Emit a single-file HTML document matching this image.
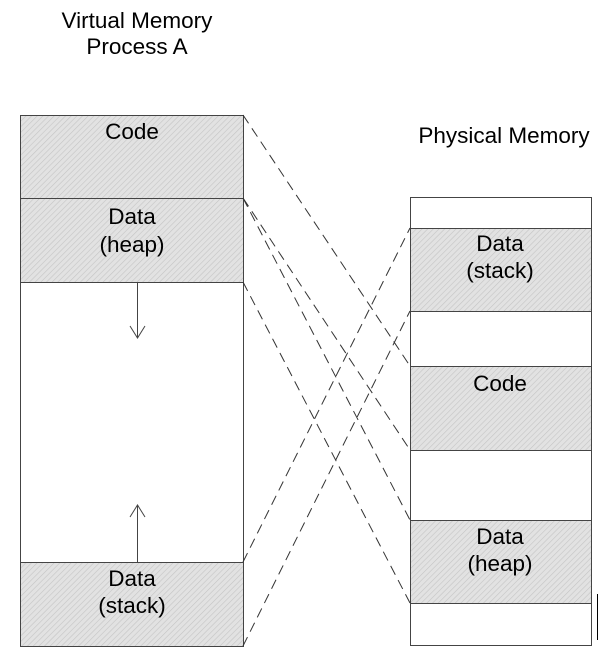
<!DOCTYPE html>
<html><head><style>body{margin:0;background:#fff}</style></head><body>
<svg width="611" height="657" xmlns="http://www.w3.org/2000/svg" font-family="Liberation Sans, sans-serif">
<defs>
<pattern id="h" width="4" height="4" patternUnits="userSpaceOnUse" patternTransform="rotate(45)">
<rect width="4" height="4" fill="#e2e2e2"/><line x1="0" y1="0" x2="0" y2="4" stroke="#c4c4c4" stroke-width="1.2"/>
</pattern>
</defs>
<g font-size="22.5" text-anchor="middle" fill="#000">
<text x="137" y="28">Virtual Memory</text>
<text x="137" y="54">Process A</text>
<text x="504" y="143">Physical Memory</text>
</g>
<g stroke="#444" stroke-width="1">
<rect x="20.5" y="115.5" width="223" height="531" fill="#fff"/>
<rect x="20.5" y="115.5" width="223" height="83" fill="url(#h)"/>
<rect x="20.5" y="198.5" width="223" height="84" fill="url(#h)"/>
<rect x="20.5" y="562.5" width="223" height="84" fill="url(#h)"/>
<line x1="137.5" y1="282" x2="137.5" y2="338"/>
<polyline points="130,326 137.5,338 145,326" fill="none"/>
<line x1="137.5" y1="562" x2="137.5" y2="505"/>
<polyline points="130,517 137.5,505 145,517" fill="none"/>
<rect x="410.5" y="197.5" width="181" height="448" fill="#fff"/>
<rect x="410.5" y="228.5" width="181" height="83" fill="url(#h)"/>
<rect x="410.5" y="366.5" width="181" height="84" fill="url(#h)"/>
<rect x="410.5" y="520.5" width="181" height="83" fill="url(#h)"/>
<line x1="597.5" y1="594" x2="597.5" y2="640" stroke="#000"/>
</g>
<g stroke="#333" stroke-width="1" stroke-dasharray="10,6" fill="none">
<line x1="243" y1="115" x2="410" y2="366"/>
<line x1="243" y1="198" x2="410" y2="450"/>
<line x1="243" y1="198" x2="410" y2="520"/>
<line x1="243" y1="282" x2="410" y2="603"/>
<line x1="243" y1="562" x2="410" y2="228"/>
<line x1="243" y1="646" x2="410" y2="311"/>
</g>
<g font-size="22.5" text-anchor="middle" fill="#000">
<text x="132" y="139">Code</text>
<text x="132" y="224">Data</text>
<text x="132" y="252">(heap)</text>
<text x="132" y="586">Data</text>
<text x="132" y="613">(stack)</text>
<text x="500" y="251">Data</text>
<text x="500" y="278">(stack)</text>
<text x="500" y="391">Code</text>
<text x="500" y="544">Data</text>
<text x="500" y="571">(heap)</text>
</g>
</svg>
</body></html>
